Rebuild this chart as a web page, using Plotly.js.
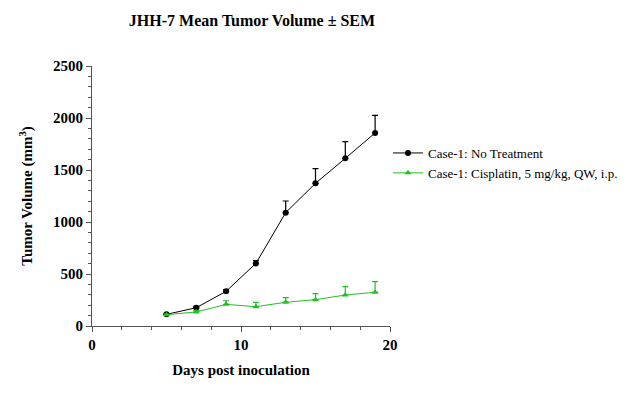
<!DOCTYPE html>
<html><head><meta charset="utf-8">
<script src="https://cdn.plot.ly/plotly-3.0.1.min.js"></script>
<style>html,body{margin:0;padding:0;background:#fff}#c{width:629px;height:407px}</style>
</head><body><div id="c"></div>
<script>
const days = [5, 7, 9, 11, 13, 15, 17, 19];
const noTreatMean = [112, 176, 333, 602, 1090, 1372, 1612, 1856];
const noTreatSem = [8, 12, 18, 26, 112, 141, 160, 170];
const cisMean = [109, 135, 208, 186, 228, 253, 298, 324];
const cisSem = [6, 14, 35, 42, 44, 58, 80, 102];
const zeros = days.map(() => 0);

const serif = 'Liberation Serif, Times New Roman, serif';
const traces = [
  {x: days, y: noTreatMean, name: 'Case-1: No Treatment', mode: 'lines+markers',
   line: {color: '#000', width: 1}, marker: {symbol: 'circle', size: 6, color: '#000'},
   error_y: {type: 'data', symmetric: false, array: noTreatSem, arrayminus: zeros, color: '#000', thickness: 1.2, width: 3}},
  {x: days, y: cisMean, name: 'Case-1: Cisplatin, 5 mg/kg, QW, i.p.', mode: 'lines+markers',
   line: {color: '#22c022', width: 1}, marker: {symbol: 'triangle-up', size: 6, color: '#22c022'},
   error_y: {type: 'data', symmetric: false, array: cisSem, arrayminus: zeros, color: '#22c022', thickness: 1.2, width: 3}}
];
const layout = {
  width: 629, height: 407,
  margin: {l: 92, r: 239, t: 66, b: 81, autoexpand: false},
  paper_bgcolor: '#fff', plot_bgcolor: '#fff',
  font: {family: serif, color: '#000'},
  title: {text: '<b>JHH-7 Mean Tumor Volume ± SEM</b>', font: {size: 16, family: serif}, x: 252 / 629, xref: 'container', xanchor: 'center', y: 1 - 20 / 407, yref: 'container', yanchor: 'middle'},
  xaxis: {range: [0, 20], tickvals: [0, 10, 20], ticktext: ['<b>0</b>', '<b>10</b>', '<b>20</b>'],
    ticks: 'outside', ticklen: 5, tickcolor: '#555', showgrid: false, zeroline: false,
    showline: true, linecolor: '#555', linewidth: 1,
    minor: {tickvals: [2, 4, 6, 8, 12, 14, 16, 18], ticks: 'outside', ticklen: 3, tickcolor: '#555'},
    tickfont: {size: 15, family: serif},
    title: {text: '<b>Days post inoculation</b>', font: {size: 15, family: serif}, standoff: 12}},
  yaxis: {range: [0, 2500], tickvals: [0, 500, 1000, 1500, 2000, 2500],
    ticktext: ['<b>0</b>', '<b>500</b>', '<b>1000</b>', '<b>1500</b>', '<b>2000</b>', '<b>2500</b>'],
    ticks: 'outside', ticklen: 5, tickcolor: '#555', showgrid: false, zeroline: false,
    showline: true, linecolor: '#555', linewidth: 1,
    minor: {dtick: 100, ticks: 'outside', ticklen: 3, tickcolor: '#555'},
    tickfont: {size: 15, family: serif},
    title: {text: '<b>Tumor Volume (mm<sup>3</sup>)</b>', font: {size: 15, family: serif}, standoff: 16}},
  legend: {x: 388 / 629, xref: 'container', xanchor: 'left', y: 1 - 163 / 407, yref: 'container', yanchor: 'middle', font: {size: 13, family: serif}, tracegroupgap: 6, itemwidth: 30},
  showlegend: true
};
Plotly.newPlot('c', traces, layout, {displayModeBar: false, staticPlot: true});
</script></body></html>
